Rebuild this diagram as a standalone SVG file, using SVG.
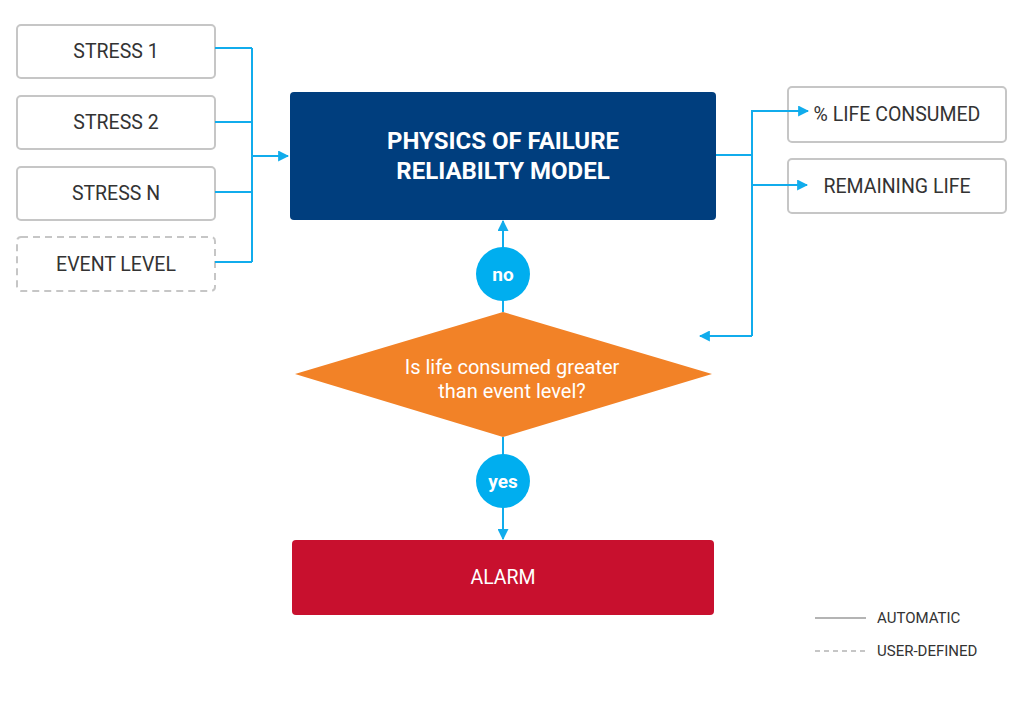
<svg xmlns="http://www.w3.org/2000/svg" width="1027" height="702" viewBox="0 0 1027 702">
<defs>
<style>
.box{fill:#fff;stroke:#c6c6c6;stroke-width:2}
.dash{stroke-dasharray:7 5}
.lbl{font-family:Roboto,"Liberation Sans",sans-serif;font-size:19.5px;fill:#333;text-anchor:middle;dominant-baseline:central}
.wt{font-family:Roboto,"Liberation Sans",sans-serif;fill:#fff;text-anchor:middle;dominant-baseline:central}
.con{fill:none;stroke:#11acec;stroke-width:2}
.leg{font-family:Roboto,"Liberation Sans",sans-serif;font-size:15px;fill:#333;dominant-baseline:central}
</style>
<marker id="ah" viewBox="0 0 10 10" refX="9" refY="5" markerWidth="5.5" markerHeight="5.5" orient="auto" markerUnits="strokeWidth">
<path d="M0,0 L10,5 L0,10 Z" fill="#11acec"/>
</marker>
</defs>
<rect width="1027" height="702" fill="#fff"/>
<g id="stress1"><rect class="box" x="17" y="25" width="198" height="53" rx="4"/><text class="lbl" x="116" y="51">STRESS 1</text></g>
<g id="stress2"><rect class="box" x="17" y="96" width="198" height="53" rx="4"/><text class="lbl" x="116" y="122">STRESS 2</text></g>
<g id="stressN"><rect class="box" x="17" y="167" width="198" height="53" rx="4"/><text class="lbl" x="116" y="193">STRESS N</text></g>
<g id="eventLevel"><rect class="box dash" x="17" y="237" width="198" height="54" rx="4"/><text class="lbl" x="116" y="264">EVENT LEVEL</text></g>
<g id="model"><rect x="290" y="92" width="426" height="128" rx="4" fill="#003e7e"/>
<text class="wt" x="503" y="141" font-size="24" font-weight="bold">PHYSICS OF FAILURE</text>
<text class="wt" x="503" y="171" font-size="24" font-weight="bold">RELIABILTY MODEL</text></g>
<g id="lifeConsumed"><rect class="box" x="788" y="87" width="218" height="55" rx="4"/><text class="lbl" x="897" y="114">% LIFE CONSUMED</text></g>
<g id="remainingLife"><rect class="box" x="788" y="159" width="218" height="54" rx="4"/><text class="lbl" x="897" y="186">REMAINING LIFE</text></g>
<g id="alarm"><rect x="292" y="540" width="422" height="75" rx="4" fill="#c8102e"/><text class="wt" x="503" y="577" font-size="19.5">ALARM</text></g>
<g id="connectors">
<path class="con" d="M215,48 H252 M215,122 H252 M215,192 H252 M215,262 H252 M252,48 V262"/>
<path class="con" d="M252,156 H288" marker-end="url(#ah)"/>
<path class="con" d="M716,155 H752 M752,111 V336"/>
<path class="con" d="M751,111 H808" marker-end="url(#ah)"/>
<path class="con" d="M752,185 H807" marker-end="url(#ah)"/>
<path class="con" d="M752,336 H700" marker-end="url(#ah)"/>
<path class="con" d="M503,312 V221" marker-end="url(#ah)"/>
<path class="con" d="M503,437 V539" marker-end="url(#ah)"/>
</g>
<g id="no"><circle cx="503" cy="274" r="27" fill="#00aeef"/><text class="wt" x="503" y="274" font-size="19" font-weight="bold">no</text></g>
<g id="decision"><polygon points="503,312 712,374 503,437 295,374" fill="#f28227"/>
<text class="wt" x="512" y="367" font-size="20">Is life consumed greater</text>
<text class="wt" x="512" y="391" font-size="20">than event level?</text></g>
<g id="yes"><circle cx="503" cy="481" r="27" fill="#00aeef"/><text class="wt" x="503" y="481" font-size="19" font-weight="bold">yes</text></g>
<g id="legend">
<line x1="815" y1="618" x2="866" y2="618" stroke="#b4b4b4" stroke-width="2"/>
<text class="leg" x="877" y="618">AUTOMATIC</text>
<line x1="815" y1="651" x2="866" y2="651" stroke="#b4b4b4" stroke-width="1.5" stroke-dasharray="5 4"/>
<text class="leg" x="877" y="651">USER-DEFINED</text>
</g>
</svg>
